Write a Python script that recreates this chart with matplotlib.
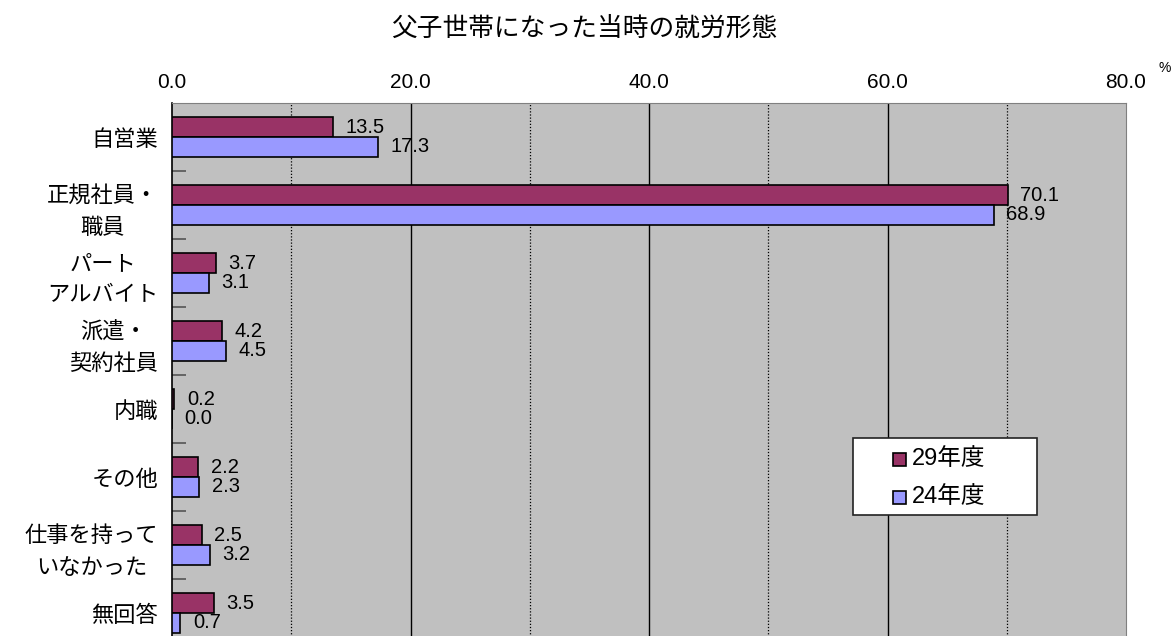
import matplotlib
matplotlib.use("Agg")
import matplotlib.pyplot as plt
from matplotlib.patches import Rectangle
import numpy as np

plt.rcParams['font.family'] = ['Noto Sans CJK JP', 'DejaVu Sans']

categories = ["自営業", "正規社員・\n職員", "パート\nアルバイト", "派遣・\n契約社員", "内職",
              "その他", "仕事を持って\nいなかった", "無回答"]
series_names = ["29年度", "24年度"]
values_29 = [13.5, 70.1, 3.7, 4.2, 0.2, 2.2, 2.5, 3.5]
values_24 = [17.3, 68.9, 3.1, 4.5, 0.0, 2.3, 3.2, 0.7]
xticks = [0, 20, 40, 60, 80]
title = "父子世帯になった当時の就労形態"

col29 = "#993366"
col24 = "#9999FF"
numfont = ['Liberation Sans', 'Noto Sans CJK JP']

W, H = 1175, 636
def fx(px):
    return px / W
def fy(py):
    return 1 - py / H

fig = plt.figure(figsize=(11.75, 6.36), dpi=100)
ax = fig.add_axes([fx(172), fy(647), (1126-172)/W, (647-103)/H])
ax.set_facecolor("#C0C0C0")

y = np.arange(len(categories))
h = 0.287
ax.barh(y - h/2, values_29, height=h, color=col29, edgecolor="black", linewidth=1.2, label=series_names[0], zorder=3)
ax.barh(y + h/2, values_24, height=h, color=col24, edgecolor="black", linewidth=1.2, label=series_names[1], zorder=3)

for yy, v in zip(y - h/2, values_29):
    ax.annotate(f"{v:.1f}", (v, yy), xytext=(9, 0), textcoords="offset points",
                va="center", ha="left", fontsize=14.5, family=numfont, zorder=4)
for yy, v in zip(y + h/2, values_24):
    ax.annotate(f"{v:.1f}", (v, yy), xytext=(9, 0), textcoords="offset points",
                va="center", ha="left", fontsize=14.5, family=numfont, zorder=4)

ax.set_xlim(0, 80)
ax.set_ylim(len(categories) - 0.5, -0.5)

for gx in [20, 40, 60]:
    ax.axvline(gx, color="black", linewidth=1.0, zorder=1)
for gx in [10, 30, 50, 70]:
    ax.axvline(gx, color="black", linewidth=0.9, linestyle=(0, (1, 1.5)), zorder=1)

ax.xaxis.tick_top()
ax.set_xticks(xticks)
ax.set_xticklabels([f"{t:.1f}" for t in xticks], family=numfont, fontsize=15)
ax.tick_params(axis="x", length=0, pad=8)

ax.set_yticks(y)
ax.set_yticklabels(categories, fontsize=16, multialignment="center", linespacing=1.45)
ax.tick_params(axis="y", which="major", length=0, pad=10)
ax.set_yticks(y[:-1] + 0.5, minor=True)
ax.tick_params(axis="y", which="minor", length=10, direction="in", color="#555555", width=1.2)

for s in ["top", "right", "bottom"]:
    ax.spines[s].set_color("#808080")
ax.spines["left"].set_color("black")
ax.spines["left"].set_linewidth(1.2)

fig.text(fx(584), fy(29), title, ha="center", va="center", fontsize=18.5)
fig.text(fx(1165), fy(68), "%", ha="center", va="center", fontsize=10, family=numfont)

# legend box
fig.patches.append(Rectangle((fx(853), fy(515)), (1037-853)/W, (515-438)/H,
                             transform=fig.transFigure, facecolor="white", edgecolor="#222222",
                             linewidth=1.2, zorder=5))
for (py, col, name) in [(459, col29, series_names[0]), (497, col24, series_names[1])]:
    fig.patches.append(Rectangle((fx(893), fy(py + 6.5)), 13/W, 13/H, transform=fig.transFigure,
                                 facecolor=col, edgecolor="black", linewidth=1.2, zorder=6))
    fig.text(fx(912), fy(py), name, ha="left", va="center", fontsize=17, family=numfont, zorder=7)

fig.savefig("out.png", dpi=100)
